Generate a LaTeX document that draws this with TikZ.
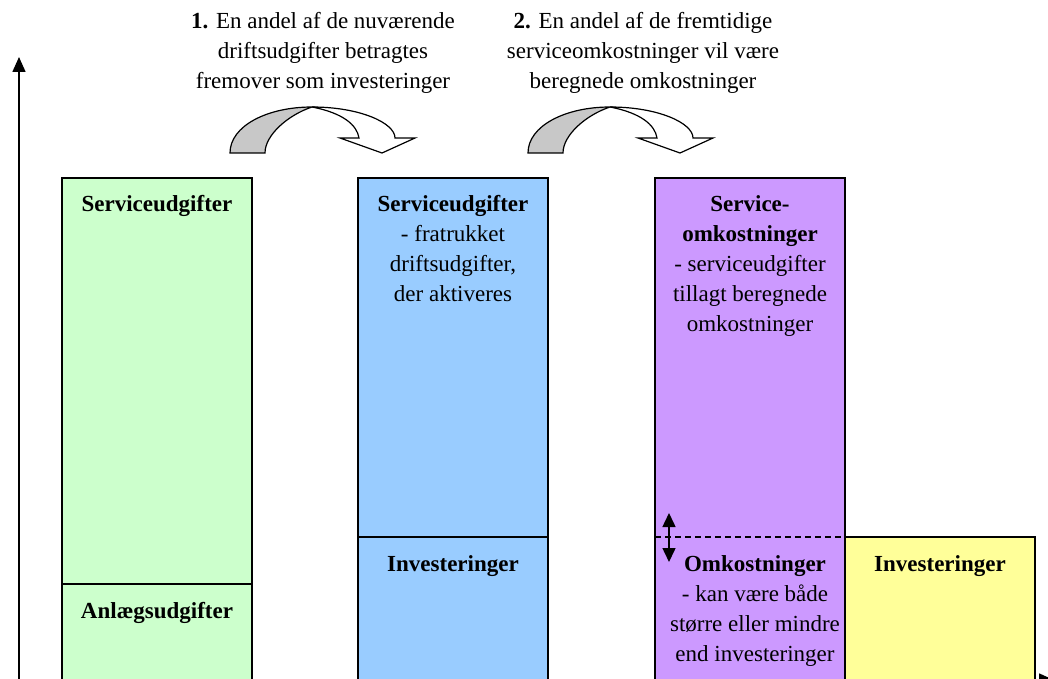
\documentclass[tikz,border=0pt]{standalone}
\usepackage{fontspec}
\setmainfont{Liberation Serif}
\usetikzlibrary{arrows.meta}
\definecolor{cgreen}{HTML}{CCFFCC}
\definecolor{cblue}{HTML}{99CCFF}
\definecolor{cpurple}{HTML}{CC99FF}
\definecolor{cyellow}{HTML}{FFFF99}
\definecolor{cgray}{HTML}{C8C8C8}
\tikzset{
  box/.style={draw=black, line width=1.5pt, rectangle, inner sep=0pt, outer sep=0pt, anchor=north west},
  lbl/.style={anchor=north, inner sep=0pt, align=center, font=\fontsize{23}{30}\selectfont},
  axis/.style={line width=1.6pt, -{Triangle[length=15pt,width=13pt]}},
  curvarrow/.pic={
    \draw[line width=1.2pt, fill=white] (82,-46) .. controls (130,-46) and (165,-30) .. (165,-15)
      -- (185,-15) -- (152,0) -- (110,-15) -- (129,-15)
      .. controls (127,-28) and (113,-40) .. (82,-46) -- cycle;
    \draw[line width=1.2pt, fill=cgray] (0,0) .. controls (0,-27) and (37,-46) .. (82,-46)
      .. controls (58,-38) and (35,-18) .. (35,0) -- cycle;
  }
}
\begin{document}
\begin{tikzpicture}[x=1pt,y=-1pt]
\useasboundingbox (0,0) rectangle (1048,679);
\clip (0,0) rectangle (1048,679);
\fill[white] (0,0) rectangle (1048,679);

% boxes
\node[box, fill=cgreen, minimum width=190pt, minimum height=406pt] (gtop) at (62,178) {};
\node[box, fill=cgreen, minimum width=190pt, minimum height=110pt] (gbot) at (62,584) {};
\node[box, fill=cblue, minimum width=190pt, minimum height=359pt] (btop) at (358,178) {};
\node[box, fill=cblue, minimum width=190pt, minimum height=160pt] (bbot) at (358,537) {};
\node[box, fill=cpurple, minimum width=190pt, minimum height=520pt] (pbox) at (655,178) {};
\node[box, fill=cyellow, minimum width=190pt, minimum height=160pt] (ybox) at (845,537) {};
\coordinate (dl) at (655,537);
\coordinate (dr) at (845,537);
\draw[dashed, line width=1.2pt, dash pattern=on 6pt off 4pt] (dl) -- (dr);

% double arrow
\coordinate (da1) at (669,513);
\coordinate (da2) at (669,562);
\draw[line width=1.5pt, {Triangle[length=14pt,width=13pt]}-{Triangle[length=14pt,width=13pt]}] (da1) -- (da2);

% axes
\coordinate (o) at (19,680);
\coordinate (ytop) at (19,57);
\coordinate (xend) at (1054,680);
\draw[axis] (o) -- (ytop);
\draw[axis] (o) -- (xend);

% labels
\node[lbl] (t1) at (157,190) {\strut\textbf{Serviceudgifter}};
\node[lbl] (t2) at (157,597) {\strut\textbf{Anlægsudgifter}};
\node[lbl] (t3) at (453,190) {\strut\textbf{Serviceudgifter}\\- fratrukket\\driftsudgifter,\\der aktiveres};
\node[lbl] (t4) at (453,550) {\strut\textbf{Investeringer}};
\node[lbl] (t5) at (750,190) {\strut\textbf{Service-}\\\textbf{omkostninger}\\- serviceudgifter\\tillagt beregnede\\omkostninger};
\node[lbl] (t6) at (755,550) {\strut\textbf{Omkostninger}\\- kan være både\\større eller mindre\\end investeringer};
\node[lbl] (t7) at (940,550) {\strut\textbf{Investeringer}};
\node[lbl] (h1) at (323,7) {\strut\textbf{1.} En andel af de nuværende\\driftsudgifter betragtes\\fremover som investeringer};
\node[lbl] (h2) at (643,7) {\strut\textbf{2.} En andel af de fremtidige\\serviceomkostninger vil være\\beregnede omkostninger};

% curved arrows
\pic at (230,153) {curvarrow};
\pic at (528,153) {curvarrow};
\end{tikzpicture}
\end{document}
